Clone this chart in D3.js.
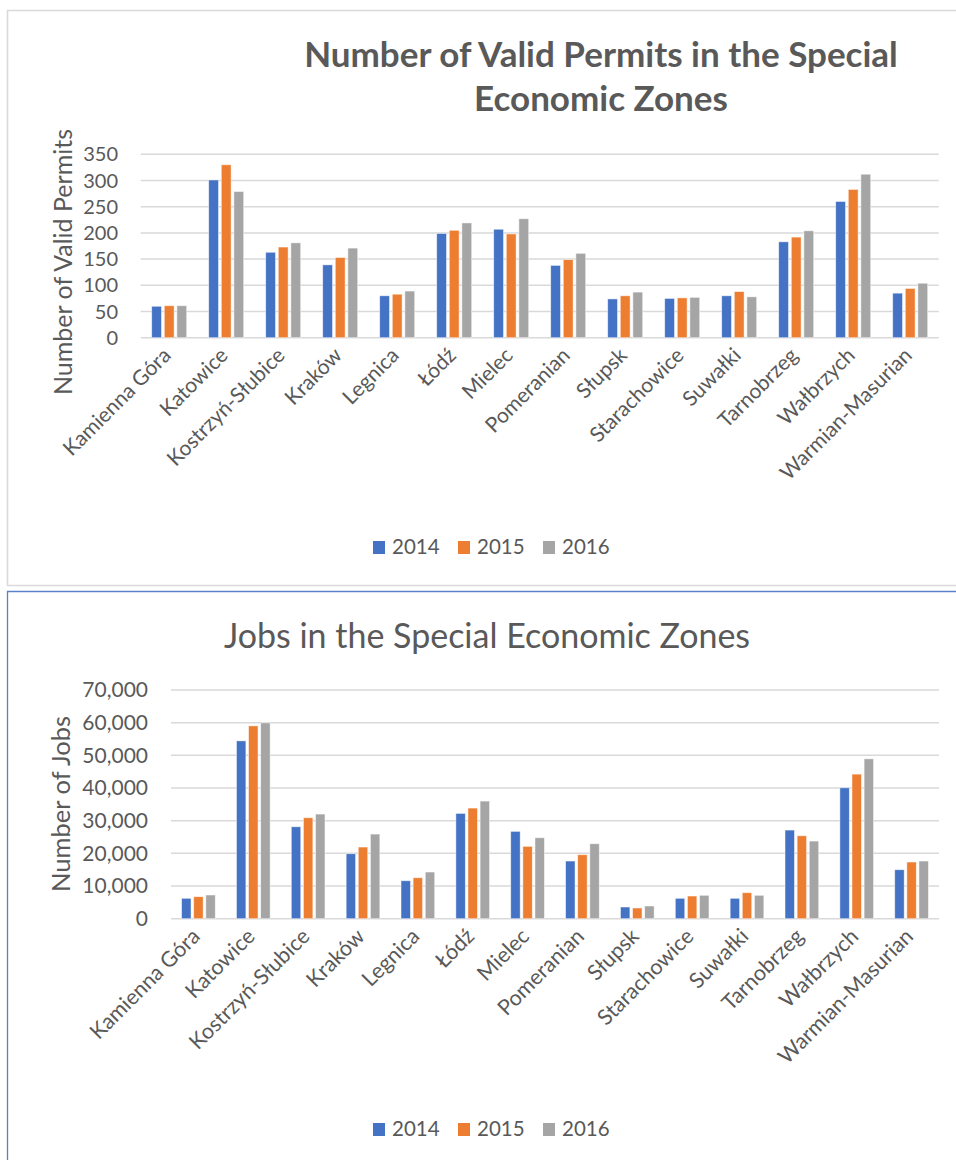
<!DOCTYPE html>
<html>
<head>
<meta charset="utf-8">
<script src="https://cdn.jsdelivr.net/npm/d3@7"></script>
<style>
  html, body { margin: 0; padding: 0; background: #fff; }
  svg { display: block; }
  text { font-family: Lato, "Open Sans", sans-serif; fill: #595959; }
</style>
</head>
<body>
<svg id="chart" width="956" height="1160"></svg>
<script>
const categories = ["Kamienna Góra", "Katowice", "Kostrzyń-Słubice", "Kraków", "Legnica", "Łódź", "Mielec", "Pomeranian", "Słupsk", "Starachowice", "Suwałki", "Tarnobrzeg", "Wałbrzych", "Warmian-Masurian"];
const years = ["2014", "2015", "2016"];

const permits2014 = [60, 301, 163, 139, 80, 199, 207, 138, 74, 75, 80, 183, 260, 85];
const permits2015 = [61, 330, 173, 153, 83, 205, 198, 149, 80, 76, 88, 192, 283, 94];
const permits2016 = [61, 279, 181, 171, 89, 219, 227, 161, 87, 77, 78, 204, 312, 104];
const permitTicks = [0, 50, 100, 150, 200, 250, 300, 350];

const jobs2014 = [6240, 54430, 28140, 19880, 11620, 32230, 26730, 17650, 3580, 6240, 6240, 27130, 40060, 14990];
const jobs2015 = [6730, 59020, 30900, 21930, 12540, 33860, 22140, 19580, 3270, 6940, 7950, 25380, 44250, 17340];
const jobs2016 = [7250, 59940, 32020, 25900, 14280, 36000, 24770, 22940, 3880, 7160, 7160, 23760, 48930, 17650];
const jobTicks = [0, 10000, 20000, 30000, 40000, 50000, 60000, 70000];

const seriesColors = ["#4472C4", "#ED7D31", "#A5A5A5"];

const svg = d3.select("#chart");

// frames
svg.append("path").attr("d", "M956,10.5 H7.5 V585.5 H956")
  .attr("fill", "none").attr("stroke", "#d9d9d9").attr("stroke-width", 1.6);
svg.append("path").attr("d", "M956,591.5 H7.5 V1160")
  .attr("fill", "none").attr("stroke", "#5b82c9").attr("stroke-width", 1.3);

function drawChart(cfg) {
  const g = svg.append("g");
  const x0 = d3.scaleBand().domain(categories).range([cfg.left, cfg.right])
    .paddingInner(0.386).paddingOuter(0.193);
  const x1 = d3.scaleBand().domain(years).range([0, x0.bandwidth()]).paddingInner(0.22);
  const y = d3.scaleLinear().domain([0, cfg.max]).range([cfg.bottom, cfg.top]);

  // gridlines
  g.selectAll(".grid").data(cfg.ticks).join("line")
    .attr("x1", cfg.left).attr("x2", cfg.right)
    .attr("y1", d => y(d)).attr("y2", d => y(d))
    .attr("stroke", "#d9d9d9").attr("stroke-width", 1.5);

  // y tick labels
  g.selectAll(".ytick").data(cfg.ticks).join("text")
    .attr("x", cfg.tickX).attr("y", d => y(d))
    .attr("dy", "0.35em").attr("text-anchor", "end")
    .style("font-size", cfg.tickSize + "px")
    .text(d => cfg.fmt(d));

  // bars
  const rows = categories.map((c, i) => ({ c, vals: cfg.series.map(s => s[i]) }));
  const grp = g.selectAll(".grp").data(rows).join("g")
    .attr("transform", d => `translate(${x0(d.c)},0)`);
  grp.selectAll("rect").data(d => d.vals.map((v, j) => ({ v, yr: years[j], j })))
    .join("rect")
    .attr("x", d => x1(d.yr)).attr("width", x1.bandwidth())
    .attr("y", d => y(d.v)).attr("height", d => y(0) - y(d.v))
    .attr("fill", d => seriesColors[d.j])
    .attr("stroke", "#ffffff").attr("stroke-opacity", 0.6).attr("stroke-width", 0.8);

  // x labels
  g.selectAll(".xl").data(categories).join("text")
    .attr("transform", d => `translate(${x0(d) + x0.bandwidth() / 2 + cfg.labDx},${cfg.bottom + cfg.labDy}) rotate(-45)`)
    .attr("text-anchor", "end")
    .style("font-size", cfg.labSize + "px")
    .text(d => d);

  // y axis title
  g.append("text")
    .attr("transform", `translate(${cfg.yTitleX},${cfg.yTitleY}) rotate(-90)`)
    .attr("text-anchor", "middle")
    .style("font-size", cfg.yTitleSize + "px")
    .text(cfg.yTitle);

  // title
  cfg.title.forEach((t, i) => {
    g.append("text")
      .attr("x", cfg.titleX).attr("y", cfg.titleY + i * cfg.titleLH)
      .attr("text-anchor", "middle")
      .style("font-size", cfg.titleSize + "px")
      .style("font-weight", cfg.titleWeight)
      .text(t);
  });

  // legend
  const lg = g.selectAll(".lg").data(years).join("g")
    .attr("transform", (d, i) => `translate(${cfg.legX + i * 85},${cfg.legY})`);
  lg.append("rect").attr("x", 0).attr("y", -6).attr("width", 12).attr("height", 13)
    .attr("fill", (d, i) => seriesColors[i]);
  lg.append("text").attr("x", 19).attr("y", 0).attr("dy", "0.36em")
    .style("font-size", cfg.legSize + "px").text(d => d);
}

drawChart({
  left: 140.7, right: 938.7, top: 154.3, bottom: 337.7, max: 350,
  ticks: permitTicks, fmt: d3.format(","), tickX: 118, tickSize: 20,
  series: [permits2014, permits2015, permits2016],
  labDx: 3, labDy: 19, labSize: 21,
  yTitle: "Number of Valid Permits", yTitleX: 72, yTitleY: 262, yTitleSize: 25,
  title: ["Number of Valid Permits in the Special", "Economic Zones"],
  titleX: 601, titleY: 67, titleLH: 44, titleSize: 35, titleWeight: 700,
  legX: 373, legY: 547, legSize: 20.5
});

drawChart({
  left: 171, right: 939, top: 690, bottom: 918.7, max: 70000,
  ticks: jobTicks, fmt: d3.format(","), tickX: 148, tickSize: 21,
  series: [jobs2014, jobs2015, jobs2016],
  labDx: 3, labDy: 19, labSize: 21.5,
  yTitle: "Number of Jobs", yTitleX: 70, yTitleY: 804, yTitleSize: 25.5,
  title: ["Jobs in the Special Economic Zones"],
  titleX: 487, titleY: 648, titleLH: 0, titleSize: 34, titleWeight: 400,
  legX: 373, legY: 1129, legSize: 20.5
});
</script>
</body>
</html>
